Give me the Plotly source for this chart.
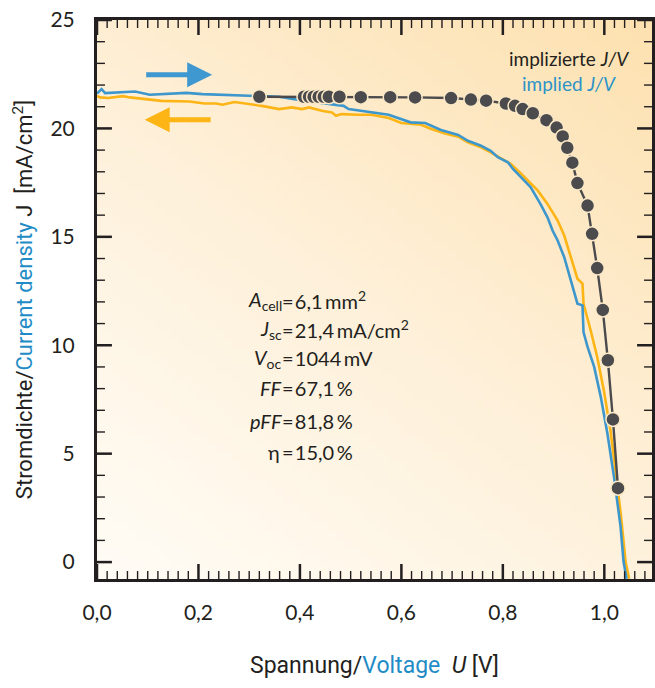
import base64
import struct
import zlib

import plotly.graph_objects as go

# ---- data -------------------------------------------------------------
# implied J/V (dots), voltage in V, current density in mA/cm²
implied_v = [0.320, 0.408, 0.418, 0.427, 0.437, 0.447, 0.457, 0.478, 0.520, 0.578,
             0.627, 0.698, 0.737, 0.767, 0.806, 0.824, 0.839, 0.859, 0.886, 0.906,
             0.918, 0.927, 0.937, 0.947, 0.967, 0.976, 0.986, 0.997, 1.007, 1.017, 1.027]
implied_j = [21.46, 21.46, 21.46, 21.46, 21.46, 21.46, 21.46, 21.46, 21.44, 21.44,
             21.43, 21.40, 21.33, 21.28, 21.15, 21.04, 20.89, 20.70, 20.38, 20.04,
             19.63, 19.11, 18.42, 17.48, 16.44, 15.14, 13.56, 11.63, 9.31, 6.58, 3.41]

# forward sweep (blue)
fwd_v = [0.000, 0.009, 0.016, 0.065, 0.075, 0.104, 0.143, 0.176, 0.208, 0.247,
         0.275, 0.306, 0.359, 0.398, 0.457, 0.486, 0.496, 0.529, 0.575, 0.618,
         0.647, 0.678, 0.712, 0.731, 0.757, 0.776, 0.790, 0.810, 0.820, 0.839,
         0.855, 0.874, 0.888, 0.898, 0.908, 0.921, 0.934, 0.947, 0.957, 0.959,
         0.967, 0.980, 0.993, 1.006, 1.019, 1.032, 1.038, 1.044]
fwd_j = [21.61, 21.81, 21.63, 21.70, 21.70, 21.55, 21.61, 21.64, 21.58, 21.55,
         21.52, 21.47, 21.46, 21.31, 21.12, 21.04, 20.89, 20.78, 20.63, 20.28,
         20.25, 19.93, 19.70, 19.43, 19.20, 18.97, 18.67, 18.44, 18.13, 17.67,
         17.28, 16.52, 15.90, 15.29, 14.83, 14.06, 12.99, 11.92, 11.84, 10.61,
         9.92, 9.00, 7.62, 5.94, 3.94, 1.64, 0.00, -0.77]

# reverse sweep (orange)
rev_v = [0.000, 0.006, 0.022, 0.051, 0.065, 0.104, 0.127, 0.182, 0.212, 0.235,
         0.247, 0.271, 0.294, 0.325, 0.359, 0.384, 0.404, 0.418, 0.443, 0.463,
         0.471, 0.482, 0.516, 0.541, 0.575, 0.600, 0.639, 0.659, 0.686, 0.712,
         0.731, 0.757, 0.776, 0.804, 0.816, 0.835, 0.869, 0.888, 0.908, 0.921,
         0.934, 0.947, 0.957, 0.959, 0.973, 0.986, 0.999, 1.012, 1.022, 1.033,
         1.042, 1.049]
rev_j = [21.50, 21.43, 21.40, 21.49, 21.43, 21.35, 21.27, 21.24, 21.15, 21.15,
         21.09, 21.22, 21.15, 21.04, 20.89, 20.97, 20.89, 20.97, 20.81, 20.74,
         20.58, 20.66, 20.63, 20.63, 20.48, 20.25, 20.17, 19.97, 19.77, 19.62,
         19.36, 19.13, 18.90, 18.51, 18.36, 17.93, 17.13, 16.52, 15.75, 15.06,
         14.06, 13.07, 12.84, 11.92, 10.69, 9.46, 7.93, 6.09, 4.25, 2.10,
         0.00, -0.77]

x_major_step, x_minor_step = 0.2, 0.02
y_major_step, y_minor_step = 5, 1

stat_labels = ["<i>A</i><sub>cell</sub>", "<i>J</i><sub>sc</sub>", "<i>V</i><sub>oc</sub>",
               "<i>FF</i>", "<i>pFF</i>", "η\u2009"]
stat_values = ["6,1\u2009mm<sup>2</sup>", "21,4\u2009mA/cm<sup>2</sup>", "1044\u2009mV",
               "67,1\u2009%", "81,8\u2009%", "15,0\u2009%"]

# ---- style ------------------------------------------------------------
INK = "#231f20"
BLUE = "#3d97cc"
ORANGE = "#fdb515"
DOT = "#4b4b4d"
TXT_FONT = "Lato, 'Open Sans', sans-serif"
TITLE_FONT = "'Liberation Sans Narrow', Roboto, sans-serif"

W, H = 655, 688
M_L, M_R, M_T, M_B = 97, 0, 20, 109
PLOT_W = W - M_L - M_R
PLOT_H = H - M_T - M_B

X_RANGE = [0.0, 1.094]
Y_RANGE = [-0.78, 25.0]
MAJOR_LEN, MINOR_LEN = 15, 8          # inward tick lengths in px
MAJOR_W, MINOR_W = 2.5, 1.4


def gradient_png(w=64, h=64):
    """Small PNG with a warm diagonal gradient (light bottom-left, amber top-right)."""
    lo = (255, 252, 246)
    mid = (254, 240, 217)
    hi = (253, 225, 176)
    rows = []
    for r in range(h):
        fy = 1.0 - r / (h - 1)           # 1 at top
        row = bytearray([0])
        for c in range(w):
            fx = c / (w - 1)
            t = min(1.0, 0.42 * fx + 0.58 * fy)
            if t < 0.5:
                a, b, k = lo, mid, t / 0.5
            else:
                a, b, k = mid, hi, (t - 0.5) / 0.5
            row += bytes(int(round(a[i] + (b[i] - a[i]) * k)) for i in range(3))
        rows.append(bytes(row))
    raw = b"".join(rows)

    def chunk(tag, data):
        c = struct.pack(">I", len(data)) + tag + data
        return c + struct.pack(">I", zlib.crc32(tag + data) & 0xFFFFFFFF)

    png = b"\x89PNG\r\n\x1a\n"
    png += chunk(b"IHDR", struct.pack(">IIBBBBB", w, h, 8, 2, 0, 0, 0))
    png += chunk(b"IDAT", zlib.compress(raw, 9))
    png += chunk(b"IEND", b"")
    return "data:image/png;base64," + base64.b64encode(png).decode()


def frame_ticks(major):
    """Inward tick segments on all four sides (major or minor set)."""
    ux = (X_RANGE[1] - X_RANGE[0]) / PLOT_W     # data units per pixel
    uy = (Y_RANGE[1] - Y_RANGE[0]) / PLOT_H
    ln = MAJOR_LEN if major else MINOR_LEN
    xs, ys = [], []
    per_x = int(round(x_major_step / x_minor_step))
    k = 0
    while True:
        v = round(k * x_minor_step, 4)
        if v > X_RANGE[1]:
            break
        if (k % per_x == 0) == major:
            xs += [v, v, None, v, v, None]
            ys += [Y_RANGE[0], Y_RANGE[0] + ln * uy, None,
                   Y_RANGE[1], Y_RANGE[1] - ln * uy, None]
        k += 1
    per_y = int(round(y_major_step / y_minor_step))
    k = 0
    while True:
        v = k * y_minor_step
        if v > Y_RANGE[1]:
            break
        if (k % per_y == 0) == major:
            xs += [X_RANGE[0], X_RANGE[0] + ln * ux, None,
                   X_RANGE[1], X_RANGE[1] - ln * ux, None]
            ys += [v, v, None, v, v, None]
        k += 1
    return xs, ys


fig = go.Figure()

fig.add_trace(go.Scatter(x=rev_v, y=rev_j, mode="lines",
                         line=dict(color=ORANGE, width=2.6), hoverinfo="skip"))
fig.add_trace(go.Scatter(x=fwd_v, y=fwd_j, mode="lines",
                         line=dict(color=BLUE, width=2.6), hoverinfo="skip"))
fig.add_trace(go.Scatter(x=implied_v, y=implied_j, mode="lines+markers",
                         line=dict(color=DOT, width=2.4),
                         marker=dict(size=14, color=DOT,
                                     line=dict(color="#fbe8c6", width=1.5)),
                         hoverinfo="skip"))

for is_major, width in ((False, MINOR_W), (True, MAJOR_W)):
    tx, ty = frame_ticks(is_major)
    fig.add_trace(go.Scatter(x=tx, y=ty, mode="lines", connectgaps=False,
                             line=dict(color=INK, width=width),
                             hoverinfo="skip"))

# transparent outside ticks only push the tick labels away from the frame
fig.update_xaxes(range=X_RANGE, tickmode="linear", tick0=0, dtick=x_major_step,
                 tickformat=".1f", ticks="outside", ticklen=13,
                 tickcolor="rgba(0,0,0,0)",
                 showline=True, linewidth=3, linecolor=INK, mirror=True,
                 showgrid=False, zeroline=False,
                 tickfont=dict(family=TXT_FONT, size=21, color=INK))
fig.update_yaxes(range=Y_RANGE, tickmode="linear", tick0=0, dtick=y_major_step,
                 ticks="outside", ticklen=15, tickcolor="rgba(0,0,0,0)",
                 showline=True, linewidth=3, linecolor=INK, mirror=True,
                 showgrid=False, zeroline=False,
                 tickfont=dict(family=TXT_FONT, size=21, color=INK))

ann = []

# sweep direction arrows
ann.append(dict(x=0.227, y=22.47, ax=0.094, ay=22.47, xref="x", yref="y",
                axref="x", ayref="y", text="", showarrow=True, arrowhead=2,
                arrowsize=1.0, arrowwidth=5, arrowcolor="#3f98d0"))
ann.append(dict(x=0.094, y=20.40, ax=0.227, ay=20.40, xref="x", yref="y",
                axref="x", ayref="y", text="", showarrow=True, arrowhead=2,
                arrowsize=1.0, arrowwidth=5, arrowcolor=ORANGE))

# series labels
ann.append(dict(x=0.851, y=0.932, xref="paper", yref="paper", showarrow=False,
                text="implizierte <i>J/V</i>", xanchor="center", yanchor="middle",
                font=dict(family=TXT_FONT, size=19, color=INK)))
ann.append(dict(x=0.851, y=0.887, xref="paper", yref="paper", showarrow=False,
                text="implied <i>J/V</i>", xanchor="center", yanchor="middle",
                font=dict(family=TXT_FONT, size=19, color="#2b93c9")))

# cell parameters, aligned on the equals sign
stat_y = [0.499, 0.447, 0.395, 0.342, 0.283, 0.227]
for lab, val, yy in zip(stat_labels, stat_values, stat_y):
    ann.append(dict(x=0.333, y=yy, xref="paper", yref="paper", showarrow=False,
                    text=lab, xanchor="right", yanchor="middle", borderpad=0,
                    xshift=1,
                    font=dict(family=TXT_FONT, size=20, color=INK)))
    ann.append(dict(x=0.333, y=yy, xref="paper", yref="paper", showarrow=False,
                    text="=\u200a" + val, xanchor="left", yanchor="middle", borderpad=0,
                    xshift=-1,
                    font=dict(family=TXT_FONT, size=20, color=INK)))

# axis titles
ann.append(dict(x=0.5, y=-0.154, xref="paper", yref="paper", showarrow=False,
                xanchor="center", yanchor="middle",
                text="Spannung/<span style='color:#1f8cc6'>Voltage</span>  <i>U</i> [V]",
                font=dict(family=TITLE_FONT, size=23, color=INK)))
ann.append(dict(x=-0.134, y=0.5, xref="paper", yref="paper", showarrow=False,
                xanchor="center", yanchor="middle", textangle=-90,
                text="Stromdichte/<span style='color:#1f8cc6'>Current density</span> J  [mA/cm<sup>2</sup>]",
                font=dict(family=TITLE_FONT, size=22, color=INK)))

fig.update_layout(
    width=W, height=H,
    margin=dict(l=M_L, r=M_R, t=M_T, b=M_B),
    paper_bgcolor="white", plot_bgcolor="rgba(0,0,0,0)",
    separators=",.",
    showlegend=False,
    annotations=ann,
    images=[dict(source=gradient_png(), xref="paper", yref="paper",
                 x=0, y=1, sizex=1, sizey=1, xanchor="left", yanchor="top",
                 sizing="stretch", layer="below")],
)

fig.write_html("out.html")
